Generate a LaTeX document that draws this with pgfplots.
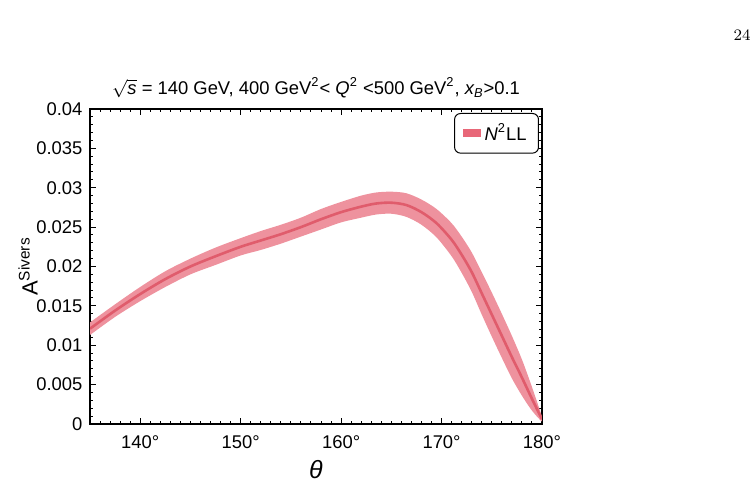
\documentclass[border=0pt]{standalone}
\usepackage{fontspec}
\setmainfont{Liberation Sans}
\usepackage{pgfplots}
\pgfplotsset{compat=1.18}
\usepackage{pgfplotstable}
\newfontfamily\lmfont{Latin Modern Roman}
\definecolor{bandred}{RGB}{238,146,158}
\definecolor{linered}{RGB}{224,92,108}
\definecolor{legred}{RGB}{232,103,120}
\pgfplotstableread{
t c
135 0.0121
137.5 0.0144
140 0.0165
142.5 0.0184
145 0.0200
147.5 0.0213
150 0.0225
152 0.0233
154 0.0241
156 0.0250
158 0.0260
160 0.0269
162 0.0276
163.5 0.0280
165 0.0281
166.5 0.0278
168 0.0269
169.5 0.0255
171 0.0234
172 0.0215
173 0.0193
174 0.0166
175 0.0139
176 0.0112
177 0.0085
178 0.0059
179 0.0032
180 0.0006
}\central
\pgfplotstableread{
t v
135 0.0129
137.5 0.0152
140 0.0174
142.5 0.0194
145 0.0210
147.5 0.0224
150 0.0236
152 0.0245
154 0.0253
156 0.0262
158 0.0273
160 0.0282
162 0.0290
163.5 0.0294
165 0.0295
166.5 0.0293
168 0.0285
169.5 0.0273
171 0.0255
172 0.0238
173 0.0218
174 0.0193
175 0.0167
176 0.0140
177 0.0112
178 0.0082
179 0.0047
180 0.0009
180 0.0003
179 0.0017
178 0.0036
177 0.0058
176 0.0084
175 0.0111
174 0.0139
173 0.0168
172 0.0192
171 0.0213
169.5 0.0237
168 0.0253
166.5 0.0263
165 0.0267
163.5 0.0266
162 0.0262
160 0.0256
158 0.0247
156 0.0238
154 0.0229
152 0.0221
150 0.0214
147.5 0.0202
145 0.0190
142.5 0.0174
140 0.0156
137.5 0.0136
135 0.0113
}\band
\begin{document}
\begin{tikzpicture}
\useasboundingbox (0,0) rectangle (377.5pt,242.5pt);
\node[font=\lmfont\fontsize{8}{9}\selectfont] at (371pt,225pt) {24};
\begin{axis}[
  at={(45pt,30.5pt)}, anchor=south west,
  scale only axis, width=226pt, height=157.5pt,
  xmin=135, xmax=180, ymin=0, ymax=0.04,
  xtick={140,150,160,170,180},
  xticklabels={140°,150°,160°,170°,180°},
  ytick={0,0.005,0.01,0.015,0.02,0.025,0.03,0.035,0.04},
  yticklabels={0,0.005,0.01,0.015,0.02,0.025,0.03,0.035,0.04},
  scaled y ticks=false,
  minor xtick={135,136,...,180},
  minor ytick={0.001,0.002,0.003,0.004,0.006,0.007,0.008,0.009,0.011,0.012,0.013,0.014,0.016,0.017,0.018,0.019,0.021,0.022,0.023,0.024,0.026,0.027,0.028,0.029,0.031,0.032,0.033,0.034,0.036,0.037,0.038,0.039},
  tick align=inside,
  major tick length=3pt, minor tick length=1.6pt,
  every tick/.style={black, line width=0.5pt},
  axis line style={line width=0.75pt},
  tick label style={font=\fontsize{9.2}{11}\selectfont},
  xticklabel style={yshift=-2.5pt},
  yticklabel style={xshift=-0.3pt},
  xlabel={\textit{θ}},
  xlabel style={font=\fontsize{12.5}{14}\selectfont, at={(axis description cs:0.5,0)}, anchor=center, yshift=-23pt},
  ylabel={A\textsuperscript{Sivers}},
  ylabel style={font=\fontsize{11}{13}\selectfont, at={(axis description cs:0,0.5)}, anchor=center, yshift=31pt},
  title={$\sqrt{\textit{s}}$ = 140 GeV, 400 GeV\textsuperscript{2}< \textit{Q}\textsuperscript{2} <500 GeV\textsuperscript{2}, \textit{x\textsubscript{B}}>0.1},
  title style={font=\fontsize{9.2}{11}\selectfont, at={(axis description cs:0.5,1)}, anchor=base, yshift=1.25pt},
  legend style={at={(axis description cs:1,1)}, xshift=-1.5pt, yshift=-2pt, anchor=north east,
    draw=black, line width=0.5pt, rounded corners=3pt, font=\fontsize{9.2}{11}\selectfont,
    inner xsep=4pt, inner ysep=3pt},
  legend cell align=left,
]
\addplot[fill=bandred, draw=none, smooth, forget plot] table[x=t, y=v] {\band};
\addplot[linered, line width=1.3pt, smooth, forget plot] table[x=t, y=c] {\central};
\addlegendimage{legend image code/.code={\fill[legred, sharp corners] (0pt,-1.8pt) rectangle (8.5pt,1.8pt);}}
\addlegendentry{\textit{N}\textsuperscript{2}LL}
\end{axis}
\end{tikzpicture}
\end{document}
